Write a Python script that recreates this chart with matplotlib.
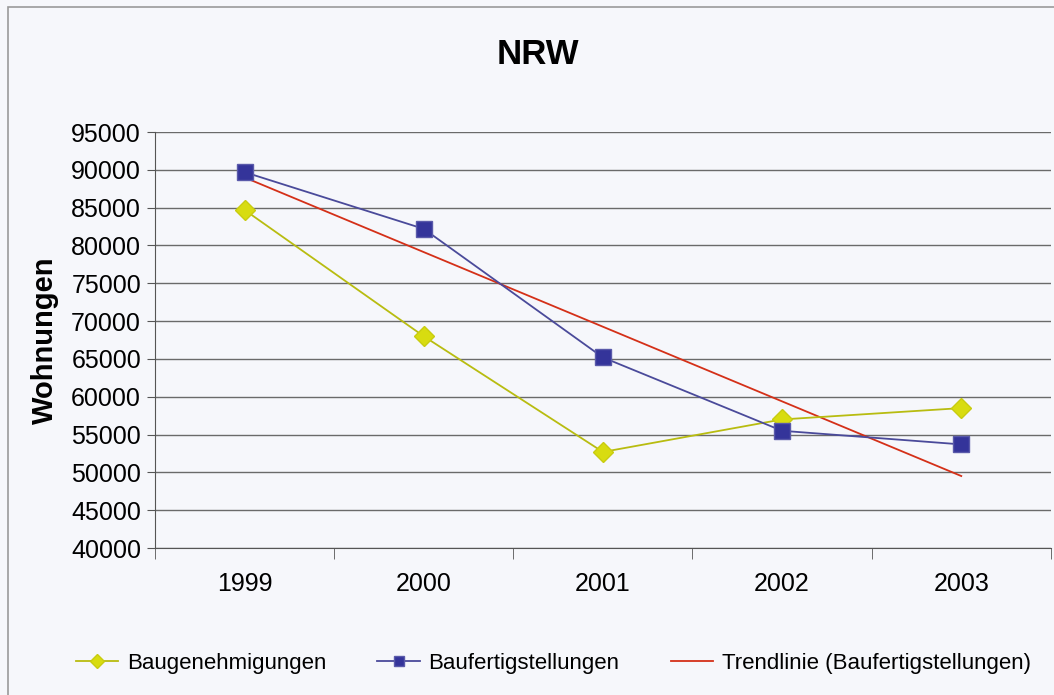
import matplotlib.pyplot as plt
import numpy as np
from matplotlib.patches import Rectangle

plt.rcParams['font.family'] = ['Liberation Sans', 'DejaVu Sans']

jahre = ['1999', '2000', '2001', '2002', '2003']
baugenehmigungen = [84700, 68000, 52700, 57000, 58500]
baufertigstellungen = [89700, 82200, 65200, 55500, 53700]

x = np.arange(len(jahre))
# lineare Trendlinie wie in Excel
m, b = np.polyfit(x, baufertigstellungen, 1)
trend = m * x + b

fig = plt.figure(figsize=(10.54, 6.95), dpi=100)
fig.patch.set_facecolor('#f6f7fb')
fig.patches.append(Rectangle((0.008, -0.01), 1.0, 1.0, transform=fig.transFigure,
                             fill=False, edgecolor='#9a9a9a', lw=1.2))

ax = fig.add_axes([0.147, 0.2115, 0.850, 0.5985])
ax.set_facecolor('none')

ax.plot(x, baugenehmigungen, color='#b8bc10', lw=1.3, marker='D', ms=10,
        mfc='#d8dc10', mec='#c8cc10', label='Baugenehmigungen', zorder=3)
ax.plot(x, baufertigstellungen, color='#4a4a9a', lw=1.3, marker='s', ms=11,
        mfc='#34349a', mec='#5a5aaa', label='Baufertigstellungen', zorder=3)
ax.plot(x, trend, color='#d43018', lw=1.3, label='Trendlinie (Baufertigstellungen)', zorder=2)

ax.set_xlim(-0.5, len(jahre) - 0.5)
ax.set_ylim(40000, 95000)
ax.set_yticks(np.arange(40000, 95001, 5000))
ax.yaxis.grid(True, color='#6a6a6a', lw=1.0)
ax.set_axisbelow(True)

ax.set_xticks(x)
ax.set_xticklabels(jahre)
ax.set_xticks(np.arange(-0.5, len(jahre)), minor=True)
ax.tick_params(axis='x', which='major', length=0, pad=17, labelsize=18)
ax.tick_params(axis='x', which='minor', length=8, color='#555555', direction='out')
ax.tick_params(axis='y', length=6, color='#555555', labelsize=18, pad=4)

for s in ['top', 'right']:
    ax.spines[s].set_visible(False)
ax.spines['left'].set_color('#555555')
ax.spines['bottom'].set_color('#555555')

ax.set_ylabel('Wohnungen', fontsize=21, fontweight='bold', labelpad=9)
fig.text(0.51, 0.921, 'NRW', ha='center', va='center', fontsize=25, fontweight='bold')

leg = fig.legend(loc='center', bbox_to_anchor=(0.525, 0.046), ncol=3, frameon=False,
                 fontsize=16, handlelength=1.9, columnspacing=2.3, handletextpad=0.4)
for h in leg.legend_handles:
    h.set_markersize(7)

fig.savefig('out.png', dpi=100, facecolor=fig.get_facecolor())
